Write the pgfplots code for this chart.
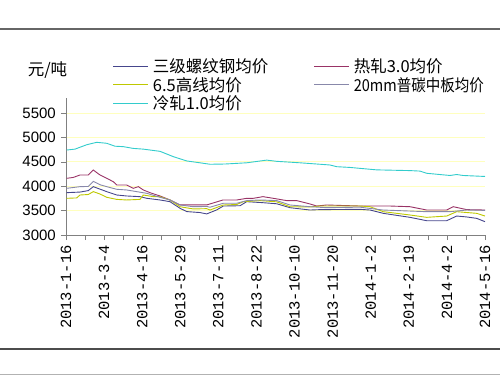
\documentclass[border=0pt]{standalone}
\usepackage{fontspec}
\setmainfont{Liberation Sans}
\newfontfamily\cjk{Noto Sans CJK SC}
\newfontfamily\mono{Liberation Mono}
\usepackage{pgfplots}
\pgfplotsset{compat=1.18}
\definecolor{cRebar}{RGB}{70,70,140}
\definecolor{cHot}{RGB}{153,51,102}
\definecolor{cWire}{RGB}{190,200,0}
\definecolor{cPlate}{RGB}{136,136,170}
\definecolor{cCold}{RGB}{51,204,204}
\definecolor{cGrid}{RGB}{255,255,190}
\begin{document}
\begin{tikzpicture}[x=1pt,y=1pt]
\path[use as bounding box] (0,0) rectangle (500,375);
\draw[line width=1.5pt, black!60] (0,346) -- (500,346);
\draw[line width=1.5pt, black!70] (0,26) -- (500,26);
\draw[line width=1pt, black!30] (0,0.5) -- (500,0.5);
\node[font=\cjk\fontsize{16.5}{18}\selectfont, inner sep=0pt] at (47.5,305) {元/吨};
\begin{axis}[
  at={(66pt,140pt)}, anchor=south west, scale only axis,
  width=419pt, height=136.6pt,
  xmin=66, xmax=485, ymin=3000, ymax=5800,
  axis x line*=bottom, axis y line*=left,
  axis line style={black!50,-},
  tick style={black!50, thin},
  tick align=outside,
  major tick length=5pt, minor tick length=5pt,
  ytick={3000,3500,4000,4500,5000,5500},
  ymajorgrids, grid style={cGrid, line width=0.8pt},
  xtick={66,104.09,142.18,180.27,218.36,256.45,294.55,332.64,370.73,408.82,446.91,485},
  minor xtick={85.05,123.14,161.23,199.32,237.41,275.5,313.59,351.68,389.77,427.86,465.95},
  xticklabels={2013-1-16,2013-3-4,2013-4-16,2013-5-29,2013-7-11,2013-8-22,2013-10-10,2013-11-20,2014-1-2,2014-2-19,2014-4-2,2014-5-16},
  xticklabel style={rotate=90, anchor=east, font=\mono\fontsize{15.5}{15.5}\selectfont, inner sep=0pt, xshift=-5pt},
  yticklabel style={font=\fontsize{15}{15}\selectfont, inner sep=0pt, xshift=-5pt},
  /pgf/number format/assume math mode=true,
  /pgf/number format/1000 sep={},
  legend columns=2,
  legend cell align=left,
  legend image code/.code={\draw[#1] (0pt,0pt) -- (35pt,0pt);},
  legend style={draw=none, fill=none, inner sep=0pt, outer sep=0pt,
    at={(0.1122,1.290)}, anchor=north west,
    font=\cjk\fontsize{16.5}{18}\selectfont,
    row sep=3pt,
    nodes={inner sep=0pt},
    /tikz/every odd column/.append style={column sep=4pt},
    /tikz/every even column/.append style={column sep=46pt}},
  every axis plot/.append style={line width=0.9pt},
]
\addplot[cRebar] coordinates {(66.7,3868) (80,3880) (88.3,3910) (93.3,3991) (100,3940) (106.7,3889) (116.7,3820) (126.7,3800) (140,3786) (146.7,3752) (160,3718) (170,3683) (180,3548) (186.7,3480) (200,3460) (206.7,3432) (216.7,3514) (223.3,3594) (240,3600) (246.7,3683) (263.3,3662) (276.7,3640) (290,3560) (310,3512) (320,3520) (360,3526) (370,3512) (383.3,3444) (410,3362) (426.7,3293) (446.7,3293) (456.7,3389) (466.7,3370) (476.7,3341) (485,3273)};
\addlegendentry{\makebox[115pt][l]{三级螺纹钢均价}}
\addplot[cHot] coordinates {(66.7,4162) (73.3,4180) (80,4230) (88.3,4230) (93.3,4332) (100,4230) (106.7,4162) (113.3,4093) (116.7,4025) (126.7,4025) (133.3,3957) (138.3,3991) (143.3,3923) (150,3868) (160,3800) (170,3718) (180,3616) (193.3,3616) (206.7,3616) (223,3718) (236.7,3718) (246.7,3752) (253.3,3752) (263,3786) (273.3,3752) (286.7,3705) (296.7,3705) (310,3636) (316.7,3594) (326.7,3615) (360,3594) (390,3594) (410,3580) (426.7,3512) (446.7,3512) (453.3,3580) (466.7,3520) (485,3512)};
\addlegendentry{热轧3.0均价}
\addplot[cWire] coordinates {(66.7,3752) (76.7,3760) (80,3820) (88.3,3830) (93.3,3889) (100,3840) (106.7,3773) (116.7,3730) (126.7,3718) (140,3730) (143.3,3820) (153.3,3786) (160,3786) (170,3718) (180,3580) (193.3,3534) (206.7,3540) (210,3512) (223.3,3615) (236.7,3625) (243.3,3683) (260,3705) (276.7,3680) (290,3580) (310,3575) (320,3594) (360,3594) (370,3580) (383.3,3478) (410,3410) (426.7,3362) (446.7,3389) (456.7,3478) (476.7,3444) (485,3389)};
\addlegendentry{\makebox[115pt][l]{6.5高线均价}}
\addplot[cPlate] coordinates {(66.7,3957) (80,3991) (88.3,3995) (93.3,4100) (100,4030) (106.7,3991) (116.7,3937) (126.7,3923) (136.7,3889) (146.7,3855) (160,3773) (170,3718) (180,3616) (193.3,3580) (206.7,3585) (210,3570) (223.3,3650) (236.7,3650) (246.7,3705) (260,3718) (276.7,3705) (290,3615) (310,3580) (326.7,3560) (360,3570) (383,3512) (426.7,3478) (450,3478) (466.7,3512) (485,3505)};
\addlegendentry{\scalebox{0.88}[1]{20mm普碳中板均价}}
\addplot[cCold] coordinates {(66.7,4742) (75,4760) (86.7,4850) (96.7,4900) (106.7,4880) (115,4820) (123.3,4811) (133.3,4775) (143.3,4760) (160,4715) (173.3,4606) (186.7,4518) (200,4480) (210,4450) (225,4455) (246.7,4480) (266.7,4535) (276.7,4510) (300,4480) (320,4450) (330,4435) (336.7,4400) (350,4385) (376.7,4335) (410,4320) (420,4310) (426.7,4265) (450,4220) (456.7,4240) (463,4220) (485,4200)};
\addlegendentry{\makebox[115pt][l]{冷轧1.0均价}}
\end{axis}
\end{tikzpicture}
\end{document}
